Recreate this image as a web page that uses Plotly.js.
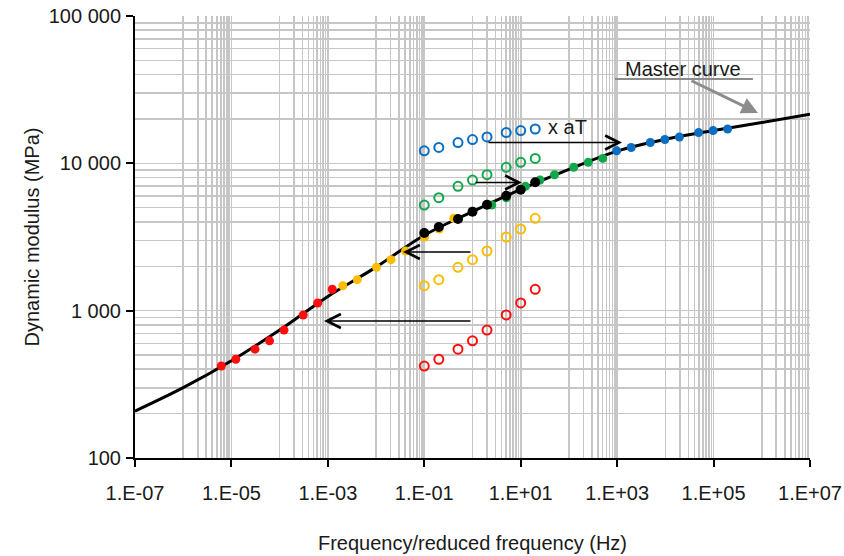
<!DOCTYPE html>
<html><head><meta charset="utf-8">
<script src="https://cdn.plot.ly/plotly-3.0.1.min.js"></script>
<style>html,body{margin:0;padding:0;background:#fff;} #chart{width:844px;height:556px;}</style>
</head><body><div id="chart"></div>
<script>
// measured frequencies (Hz)
const freqHz = [0.1, 0.2, 0.5, 1, 2, 5, 10, 20];
// dynamic modulus (MPa) at each temperature
const modBlue   = [12155, 12815, 13845, 14505, 15100, 16170, 16680, 17100];
const modGreen  = [5213, 5844, 6982, 7703, 8369, 9395, 10155, 10805];
const modBlack  = [3365, 3697, 4191, 4695, 5240, 6029, 6625, 7431];
const modYellow = [1477, 1623, 1970, 2218, 2541, 3162, 3584, 4236];
const modRed    = [421, 468, 548, 624, 738, 935, 1128, 1397];
// log10 of shift factors aT
const logATBlue = 3.99;
const logATGreen = 1.40;
const logATBlack = 0;
const logATYellow = -1.69;
const logATRed = -4.21;
// master curve
const masterFreq = [1e-7, 1e-6, 1e-5, 1e-4, 1e-3, 1e-2, 1e-1, 1e0, 1e1, 1e2, 1e3, 1e4, 1e5, 1e6, 1e7];
const masterMod  = [208, 300, 457, 738, 1250, 1975, 3250, 4700, 6650, 9100, 12100, 14550, 16700, 18900, 21500];
// ticks
const xTickVals = [1e-7, 1e-5, 1e-3, 1e-1, 1e1, 1e3, 1e5, 1e7];
const xTickText = ['1.E-07', '1.E-05', '1.E-03', '1.E-01', '1.E+01', '1.E+03', '1.E+05', '1.E+07'];
const yTickVals = [100, 1000, 10000, 100000];
const yTickText = ['100', '1 000', '10 000', '100 000'];
const xMinorDecades = [-6, -4, -2, 0, 2, 4, 6];
const yMinorDecades = [2, 3, 4];

const colBlue = '#0a6fc2', colGreen = '#12a84a', colBlack = '#000000', colYellow = '#fcbc00', colRed = '#ff0d0d';

const xMinor = [];
xMinorDecades.forEach(e => { for (let k = 1; k <= 9; k++) xMinor.push(k * Math.pow(10, e)); });
const yMinor = [];
yMinorDecades.forEach(e => { for (let k = 2; k <= 9; k++) yMinor.push(k * Math.pow(10, e)); });

const shift = (lg) => freqHz.map(f => f * Math.pow(10, lg));

function filled(lg, vals, color, size) {
  return {x: shift(lg), y: vals, mode: 'markers', type: 'scatter', hoverinfo: 'skip',
    marker: {symbol: 'circle', size: size || 9, color: color}, showlegend: false};
}
function open(vals, color) {
  return {x: freqHz, y: vals, mode: 'markers', type: 'scatter', hoverinfo: 'skip',
    marker: {symbol: 'circle-open', size: 9, color: color, line: {width: 2, color: color}}, showlegend: false};
}

const traces = [
  {x: masterFreq, y: masterMod, mode: 'lines', type: 'scatter', line: {color: '#000', width: 3, shape: 'spline', smoothing: 1}, showlegend: false, hoverinfo: 'skip'},
  filled(logATRed, modRed, colRed),
  filled(logATYellow, modYellow, colYellow),
  filled(logATGreen, modGreen, colGreen),
  filled(logATBlue, modBlue, colBlue),
  filled(logATBlack, modBlack, colBlack, 10),
  open(modBlue, colBlue),
  open(modGreen, colGreen),
  open(modYellow, colYellow),
  open(modRed, colRed)
];

const L = 135, T = 16, W = 675, H = 442;
const px = (x) => (x - L) / W;
const py = (y) => (T + H - y) / H;

function arrow(hx, hy, tx, ty, color, head, width, size) {
  return {xref: 'paper', yref: 'paper', x: px(hx), y: py(hy), ax: tx - hx, ay: ty - hy,
    text: '', showarrow: true, arrowhead: head, arrowwidth: width, arrowsize: size, arrowcolor: color, standoff: 0, startstandoff: 0};
}

const gridCol = '#c6c6c6';
const fnt = {family: 'Liberation Sans, Arial, sans-serif', size: 20, color: '#1a1a1a'};

const layout = {
  width: 844, height: 556,
  margin: {l: L, r: 844 - L - W, t: T, b: 556 - T - H},
  paper_bgcolor: '#fff', plot_bgcolor: '#fff',
  font: fnt,
  showlegend: false,
  xaxis: {
    type: 'log', range: [-7, 7], tickmode: 'array', tickvals: xTickVals, ticktext: xTickText,
    showgrid: true, gridcolor: gridCol, gridwidth: 1.6,
    showline: true, linecolor: '#000', linewidth: 2, ticks: 'outside', ticklen: 7, tickwidth: 2, tickcolor: '#000',
    tickfont: fnt, zeroline: false, ticklabelstandoff: 9,
    minor: {tickmode: 'array', tickvals: xMinor, showgrid: true, gridcolor: gridCol, gridwidth: 1.6, ticks: ''},
    title: {text: 'Frequency/reduced frequency (Hz)', font: fnt, standoff: 33}
  },
  yaxis: {
    type: 'log', range: [2, 5], tickmode: 'array', tickvals: yTickVals, ticktext: yTickText,
    showgrid: true, gridcolor: gridCol, gridwidth: 1.6,
    showline: true, linecolor: '#000', linewidth: 2, ticks: 'outside', ticklen: 7, tickwidth: 2, tickcolor: '#000',
    tickfont: fnt, zeroline: false, ticklabelstandoff: 1,
    minor: {tickmode: 'array', tickvals: yMinor, showgrid: true, gridcolor: gridCol, gridwidth: 1.6, ticks: ''},
    title: {text: 'Dynamic modulus (MPa)', font: fnt, standoff: 4}
  },
  shapes: [
    {type: 'line', xref: 'paper', yref: 'paper', x0: px(615), x1: px(753), y0: py(79), y1: py(79), line: {color: '#8c8c8c', width: 2}}
  ],
  annotations: [
    {xref: 'paper', yref: 'paper', x: px(683), y: py(69), text: 'Master curve', showarrow: false, font: fnt, xanchor: 'center', yanchor: 'middle'},
    {xref: 'paper', yref: 'paper', x: px(567), y: py(127), text: 'x aT', showarrow: false, font: fnt, xanchor: 'center', yanchor: 'middle'},
    arrow(758, 113, 690, 80, '#8c8c8c', 2, 3, 1.1),
    arrow(622, 142.5, 487, 142.5, '#000', 5, 1.6, 1.7),
    arrow(522, 182.5, 474, 182.5, '#000', 5, 1.6, 1.7),
    arrow(403, 252, 472, 252, '#000', 5, 1.6, 1.7),
    arrow(324, 321, 472, 321, '#000', 5, 1.6, 1.7)
  ]
};

Plotly.newPlot('chart', traces, layout, {staticPlot: true, displayModeBar: false});
</script>
</body></html>
